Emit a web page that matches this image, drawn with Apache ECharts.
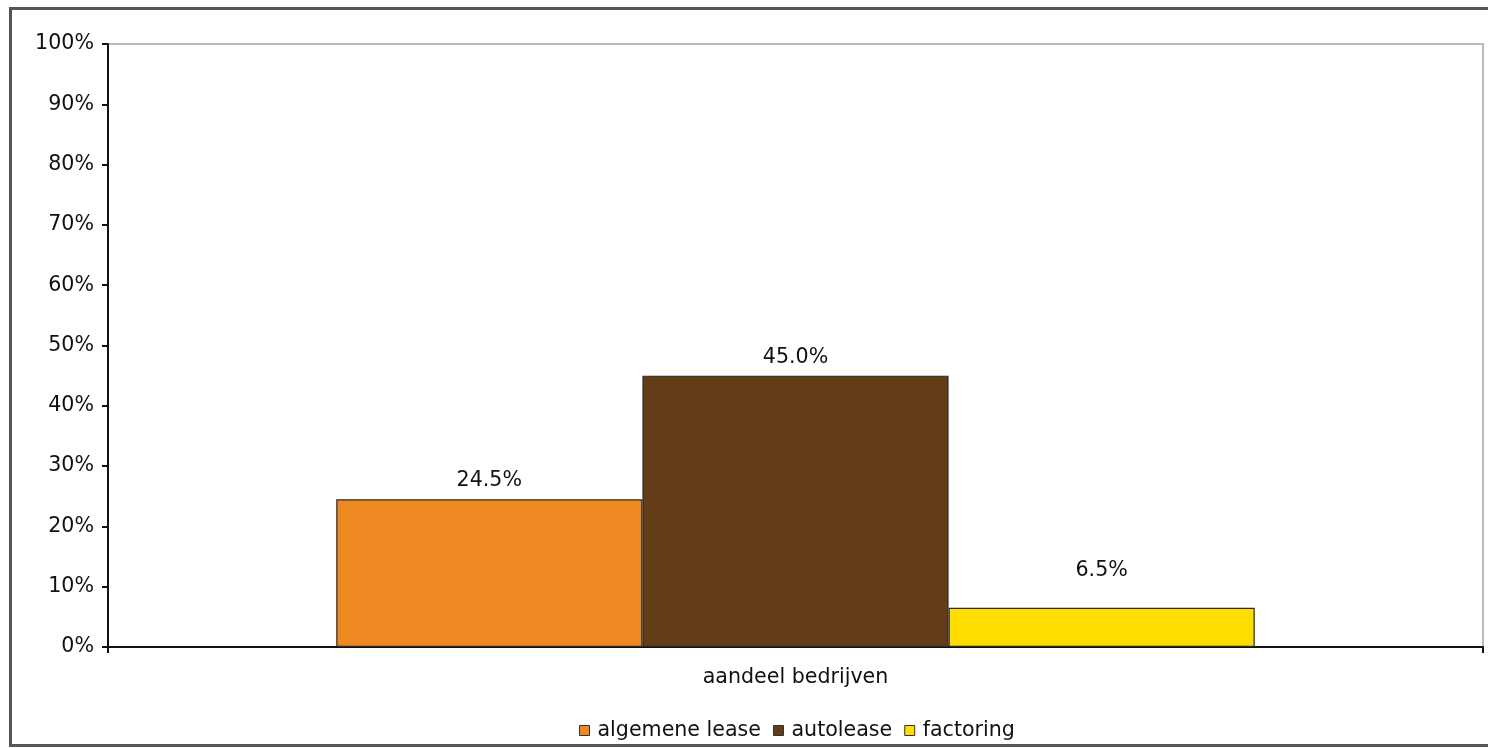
<!DOCTYPE html>
<html>
<head>
<meta charset="utf-8">
<script src="https://cdn.jsdelivr.net/npm/echarts@6/dist/echarts.min.js"></script>
<style>
html,body{margin:0;padding:0;background:#fff;}
#chart{width:1488px;height:748px;}
</style>
</head>
<body>
<div id="chart"></div>
<script>
const categories = ['aandeel bedrijven'];
const seriesNames = ['algemene lease', 'autolease', 'factoring'];
const algemeneLease = [24.5];
const autolease = [45.0];
const factoring = [6.5];
const yTicks = [0, 10, 20, 30, 40, 50, 60, 70, 80, 90, 100];

const colors = ['#EE8820', '#643C16', '#FFDD00'];
const labelDistances = [8, 8, 27];
const font = 'Verdana, "DejaVu Sans", sans-serif';
const fs = 20.6;
const values = [algemeneLease, autolease, factoring];

const chart = echarts.init(document.getElementById('chart'), null, {renderer: 'canvas'});
chart.setOption({
  animation: false,
  backgroundColor: '#fff',
  textStyle: {fontFamily: font},
  graphic: [{
    type: 'rect',
    shape: {x: 10.5, y: 8.5, width: 1500, height: 737},
    style: {fill: 'none', stroke: '#555', lineWidth: 3},
    silent: true, z: 100
  }],
  grid: {left: 108, right: 5, top: 44, bottom: 101, show: true, borderColor: '#bbb', borderWidth: 2, backgroundColor: 'transparent'},
  legend: {
    bottom: 2,
    left: 574,
    itemWidth: 10, itemHeight: 10, itemGap: 12,
    icon: 'rect',
    textStyle: {fontFamily: font, fontSize: fs, color: '#111', padding: [0, 0, 0, 3]},
    itemStyle: {borderColor: '#333', borderWidth: 1},
    data: seriesNames
  },
  xAxis: {
    type: 'category',
    data: categories,
    axisLine: {lineStyle: {color: '#111', width: 2}},
    axisTick: {show: true, length: 6, lineStyle: {color: '#111', width: 2}},
    axisLabel: {fontFamily: font, fontSize: fs, color: '#111', margin: 20}
  },
  yAxis: {
    type: 'value',
    min: yTicks[0], max: yTicks[yTicks.length - 1], interval: 10,
    axisLine: {show: true, lineStyle: {color: '#111', width: 2}},
    axisTick: {show: true, length: 6, lineStyle: {color: '#111', width: 2}},
    splitLine: {show: false},
    axisLabel: {fontFamily: font, fontSize: fs, color: '#111', margin: 14, formatter: '{value}%'}
  },
  series: seriesNames.map((name, i) => ({
    name: name,
    type: 'bar',
    data: values[i],
    barGap: '0%',
    barCategoryGap: '33.2%',
    itemStyle: {color: colors[i], borderColor: '#2a2a2a', borderWidth: 1.2},
    label: {
      show: true, position: 'top', distance: labelDistances[i],
      fontFamily: font, fontSize: fs, color: '#111',
      formatter: p => p.value.toFixed(1) + '%'
    }
  }))
});
</script>
</body>
</html>
